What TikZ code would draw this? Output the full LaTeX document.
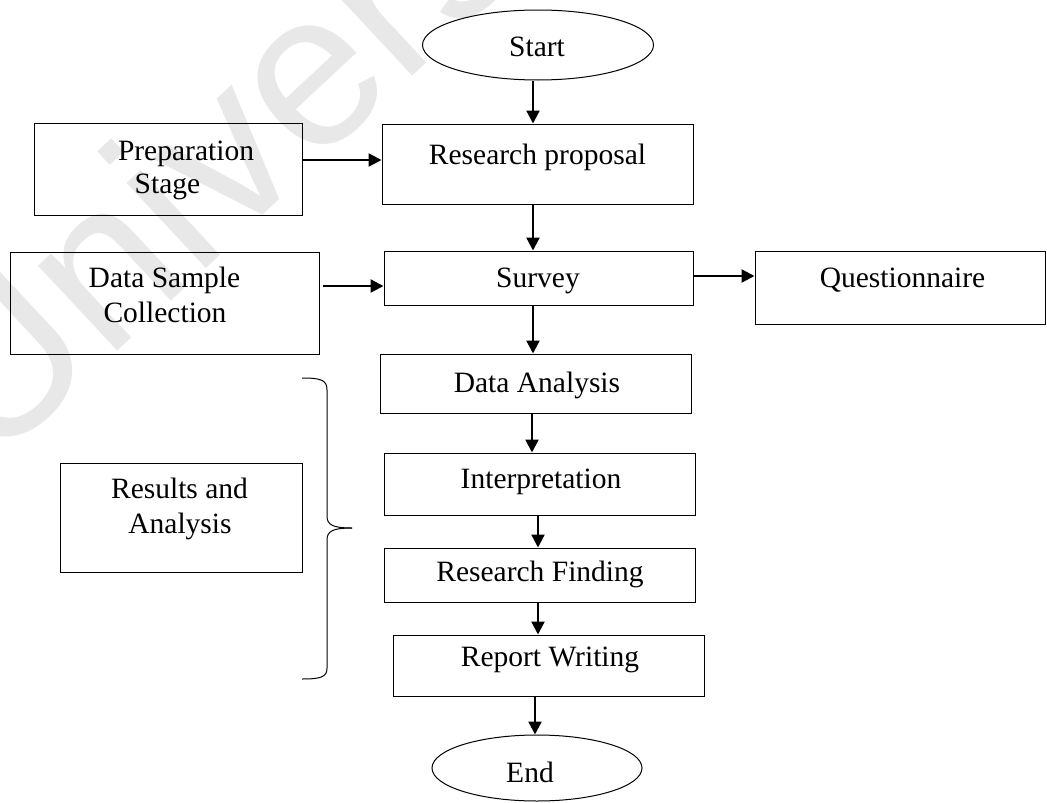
\documentclass[tikz,border=0pt]{standalone}
\usepackage{fontspec}
\setmainfont{Liberation Serif}
\newfontfamily\wmfont{Liberation Sans}
\usetikzlibrary{arrows.meta,shapes.geometric}
\begin{document}
\begin{tikzpicture}[x=1pt,y=-1pt,
  box/.style={draw=black, line width=1pt, rectangle, inner sep=0pt},
  oval/.style={draw=black, line width=1pt, ellipse, inner sep=0pt},
  txt/.style={anchor=base, inner sep=0pt, font=\fontsize{29.5}{34}\selectfont},
  arr/.style={line width=2.3pt, -{Triangle[length=13pt,width=13pt]}},
  brace/.style={line width=1pt}]
\useasboundingbox (0,0) rectangle (1047,803);
% watermark
\node[rotate=43, anchor=base west, inner sep=0pt, text=black!9,
  font=\wmfont\fontsize{220}{220}\selectfont] (wm) at (-10,470) {University};
% shapes
\node[oval, minimum width=231pt, minimum height=70pt] (start) at (538,45) {};
\node[box, minimum width=268pt, minimum height=92pt] (prep) at (168,169) {};
\node[box, minimum width=311pt, minimum height=80pt] (research) at (537.5,164) {};
\node[box, minimum width=309pt, minimum height=102pt] (dsc) at (164.5,303) {};
\node[box, minimum width=309pt, minimum height=54pt] (survey) at (538.5,278) {};
\node[box, minimum width=290pt, minimum height=73pt] (quest) at (900,287.5) {};
\node[box, minimum width=311pt, minimum height=59pt] (da) at (535.5,383.5) {};
\node[box, minimum width=311pt, minimum height=62pt] (interp) at (539.5,484) {};
\node[box, minimum width=311pt, minimum height=54pt] (rf) at (539.5,575) {};
\node[box, minimum width=311pt, minimum height=61pt] (rw) at (548.5,665.5) {};
\node[box, minimum width=242pt, minimum height=109pt] (results) at (181,517.5) {};
\node[oval, minimum width=210pt, minimum height=66pt] (stop) at (537,768) {};
% texts
\node[txt] (tstart) at (537,56) {Start};
\node[txt] (tresearch) at (537.5,164) {Research proposal};
\node[txt] (tprepa) at (186,160) {Preparation};
\node[txt] (tprepb) at (167.5,193) {Stage};
\node[txt] (tdsca) at (164.5,287) {Data Sample};
\node[txt] (tdscb) at (165,322) {Collection};
\node[txt] (tsurvey) at (538,287) {Survey};
\node[txt] (tquest) at (902.5,287) {Questionnaire};
\node[txt] (tda) at (537,392) {Data Analysis};
\node[txt] (tinterp) at (541,488) {Interpretation};
\node[txt] (trf) at (540,581) {Research Finding};
\node[txt] (trw) at (550,666) {Report Writing};
\node[txt] (tstop) at (530,782) {End};
\node[txt] (tresa) at (179.5,498) {Results and};
\node[txt] (tresb) at (180,533) {Analysis};
% vertical arrows
\draw[arr] ([xshift=-5pt]start.south) -- ([xshift=-4.5pt]research.north);
\draw[arr] ([xshift=-4.5pt]research.south) -- ([xshift=-5.5pt]survey.north);
\draw[arr] ([xshift=-5.5pt]survey.south) -- ([xshift=-2.5pt]da.north);
\draw[arr] ([xshift=-3.5pt]da.south) -- ([xshift=-7.5pt]interp.north);
\draw[arr] ([xshift=-1.5pt]interp.south) -- ([xshift=-1.5pt]rf.north);
\draw[arr] ([xshift=-1.5pt]rf.south) -- ([xshift=-10.5pt]rw.north);
\draw[arr] ([xshift=-13.5pt]rw.south) -- ([xshift=-2pt]stop.north);
% horizontal arrows
\draw[arr] ([yshift=9pt]prep.east) -- ([yshift=4pt]research.west);
\draw[arr] ([xshift=3pt,yshift=17pt]dsc.east) -- ([yshift=-8pt]survey.west);
\draw[arr] ([yshift=2pt]survey.east) -- ([yshift=11.5pt]quest.west);
% brace
\draw[brace] (302,378) .. controls (321,378) and (327,380) .. (327,390)
  -- (327,516) .. controls (327,525) and (333,528) .. (352,528);
\draw[brace] (352,528) .. controls (333,528) and (327,531) .. (327,540)
  -- (327,668) .. controls (327,677) and (321,679) .. (302,679);
\end{tikzpicture}
\end{document}
